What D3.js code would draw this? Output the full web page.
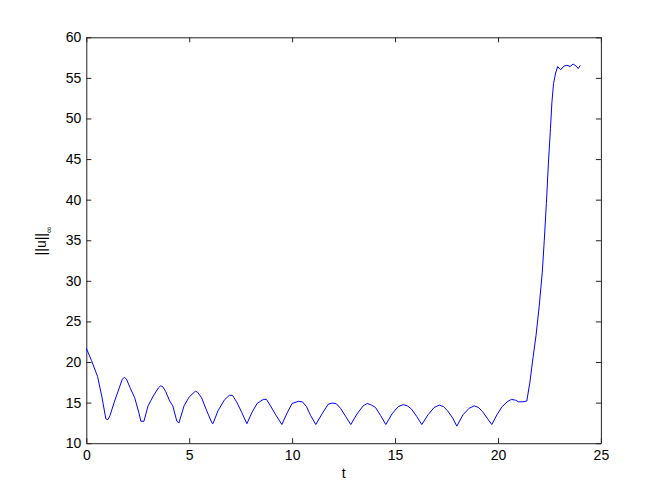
<!DOCTYPE html>
<html>
<head>
<meta charset="utf-8">
<script src="https://cdn.jsdelivr.net/npm/d3@7"></script>
<style>
  html, body { margin: 0; padding: 0; background: #fff; }
  svg { display: block; font-family: "Liberation Sans", Arial, sans-serif; }
</style>
</head>
<body>
<div id="chart"></div>
<script>
// time samples
var tValues = [
  0, 0.25, 0.55, 0.75, 0.95, 1.05, 1.15, 1.35, 1.6, 1.75, 1.85, 1.95, 2.15, 2.35, 2.55, 2.65, 2.8,
  3.0, 3.25, 3.5, 3.6, 3.7, 3.85, 4.05, 4.2, 4.4, 4.5,
  4.75, 5.0, 5.3, 5.4, 5.6, 5.85, 6.1, 6.15,
  6.4, 6.7, 6.95, 7.1, 7.3, 7.55, 7.8,
  8.05, 8.3, 8.6, 8.75, 8.95, 9.2, 9.5,
  9.75, 10.0, 10.3, 10.5, 10.7, 10.9, 11.15,
  11.45, 11.75, 11.95, 12.15, 12.35, 12.6, 12.85,
  13.15, 13.45, 13.65, 13.85, 14.05, 14.3, 14.55,
  14.85, 15.15, 15.4, 15.6, 15.8, 16.05, 16.3,
  16.6, 16.9, 17.15, 17.35, 17.55, 17.8, 18.0,
  18.3, 18.6, 18.85, 19.05, 19.25, 19.5, 19.7,
  19.95, 20.2, 20.45, 20.65, 20.85, 21.0, 21.2, 21.4,
  21.55, 21.7, 21.85, 22.0, 22.15, 22.25, 22.35, 22.45, 22.55, 22.62, 22.7, 22.8, 22.9,
  23.0, 23.05, 23.2, 23.35, 23.5, 23.65, 23.8, 23.9, 24.0
];
// ||u||_inf at each sample
var normValues = [
  21.7, 20.2, 18.2, 15.8, 13.0, 12.9, 13.4, 15.0, 16.8, 17.9, 18.1, 17.9, 16.7, 15.6, 13.8, 12.7, 12.7,
  14.6, 15.8, 16.8, 17.05, 17.0, 16.4, 15.2, 14.6, 12.7, 12.5,
  14.6, 15.7, 16.4, 16.3, 15.6, 14.0, 12.5, 12.4,
  14.0, 15.3, 15.9, 15.9, 15.1, 13.8, 12.4,
  13.8, 14.9, 15.4, 15.4, 14.6, 13.5, 12.3,
  13.7, 14.9, 15.15, 15.1, 14.5, 13.4, 12.3,
  13.6, 14.8, 14.95, 14.85, 14.3, 13.3, 12.3,
  13.6, 14.6, 14.9, 14.7, 14.4, 13.4, 12.3,
  13.6, 14.5, 14.75, 14.6, 14.2, 13.3, 12.3,
  13.5, 14.4, 14.7, 14.5, 14.0, 13.1, 12.1,
  13.5, 14.3, 14.6, 14.4, 13.9, 13.0, 12.3,
  13.5, 14.5, 15.1, 15.4, 15.3, 15.1, 15.1, 15.2,
  17.5, 20.5, 23.3, 26.8, 31.0, 35.0, 39.5, 44.5, 48.8, 52.0, 54.3, 55.6, 56.4,
  56.1, 56.0, 56.45, 56.55, 56.4, 56.7, 56.45, 56.15, 56.55
];
var xTicks = [0, 5, 10, 15, 20, 25];
var yTicks = [10, 15, 20, 25, 30, 35, 40, 45, 50, 55, 60];

var width = 664, height = 498;
var plotLeft = 86.3, plotRight = 600.9, plotTop = 37.3, plotBottom = 443.2;
var fontSize = 14;

var svg = d3.select("#chart").append("svg")
  .attr("width", width).attr("height", height);

var x = d3.scaleLinear().domain([0, 25]).range([plotLeft, plotRight]);
var y = d3.scaleLinear().domain([10, 60]).range([plotBottom, plotTop]);

var data = tValues.map(function (t, i) { return { t: t, v: normValues[i] }; });

// axes: box with inward ticks on all sides (matlab style)
var tickLen = 5;
function styleAxis(g) {
  g.selectAll("path.domain").attr("stroke", "#222");
  g.selectAll(".tick line").attr("stroke", "#222");
  g.selectAll(".tick text").attr("fill", "#000").attr("font-size", fontSize);
}
svg.append("g").attr("transform", "translate(0," + plotBottom + ")")
  .call(d3.axisBottom(x).tickValues(xTicks).tickSizeInner(-tickLen).tickSizeOuter(0).tickPadding(7))
  .call(styleAxis);
svg.append("g").attr("transform", "translate(0," + plotTop + ")")
  .call(d3.axisTop(x).tickValues(xTicks).tickSizeInner(-tickLen).tickSizeOuter(0).tickFormat(""))
  .call(styleAxis);
svg.append("g").attr("transform", "translate(" + plotLeft + ",0)")
  .call(d3.axisLeft(y).tickValues(yTicks).tickSizeInner(-tickLen).tickSizeOuter(0).tickPadding(5))
  .call(styleAxis);
svg.append("g").attr("transform", "translate(" + plotRight + ",0)")
  .call(d3.axisRight(y).tickValues(yTicks).tickSizeInner(-tickLen).tickSizeOuter(0).tickFormat(""))
  .call(styleAxis);

// the curve
var line = d3.line().x(function (d) { return x(d.t); }).y(function (d) { return y(d.v); });
svg.append("path").datum(data)
  .attr("d", line)
  .attr("fill", "none")
  .attr("stroke", "#0000ff")
  .attr("stroke-width", 1);

// labels
svg.append("text").attr("x", (plotLeft + plotRight) / 2).attr("y", 478)
  .attr("text-anchor", "middle").attr("font-size", fontSize).text("t");

var yl = svg.append("text")
  .attr("transform", "translate(46,241) rotate(-90)")
  .attr("text-anchor", "middle").attr("font-size", fontSize);
yl.append("tspan").text("||u||");
yl.append("tspan").attr("font-size", 9).attr("dy", 6).text("\u221e");
</script>
</body>
</html>
